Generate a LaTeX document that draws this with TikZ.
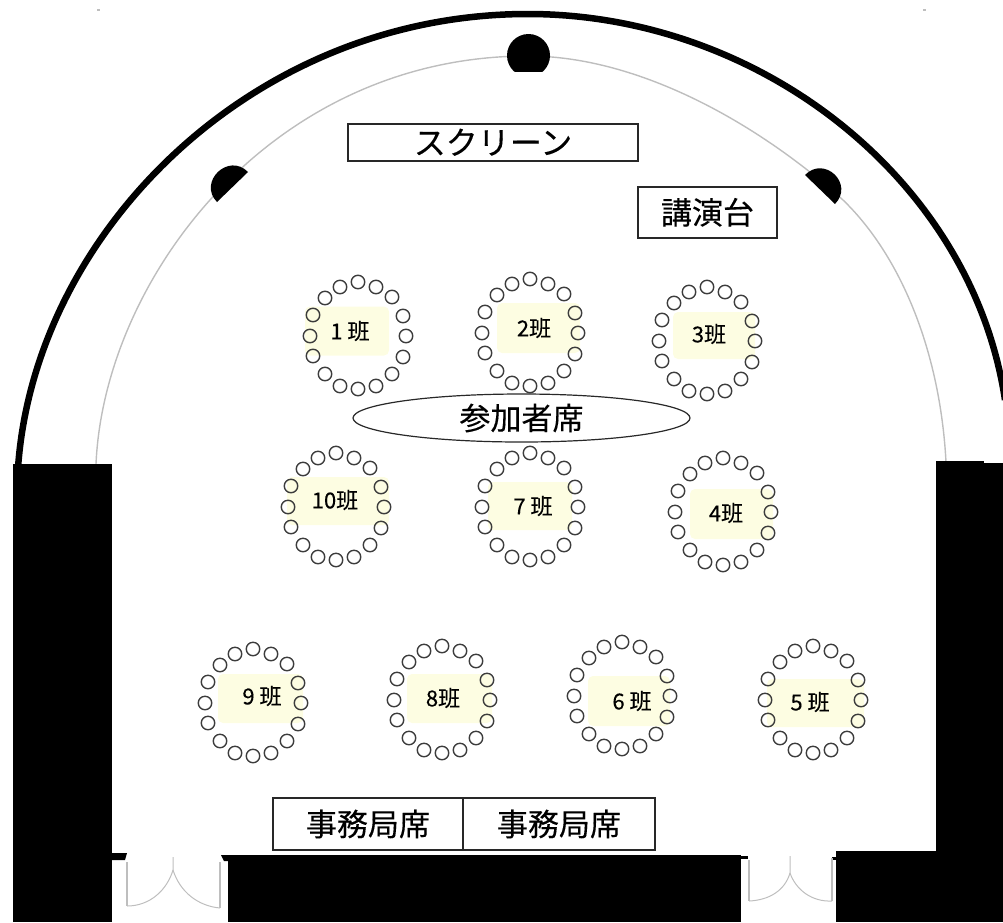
\documentclass[tikz,border=0pt]{standalone}
\usepackage{fontspec}
\setsansfont[FakeBold=0.25]{Noto Sans CJK JP}
\usepackage{tikz}
\usetikzlibrary{shapes,positioning}
\definecolor{color0}{RGB}{253,253,226}
\definecolor{color1}{RGB}{60,60,60}
\definecolor{color2}{RGB}{190,190,190}
\definecolor{color3}{RGB}{40,40,40}
\tikzstyle{tableNode} = [rectangle, fill=color0, rounded corners=5pt, inner sep=0pt, outer sep=0pt]
\tikzstyle{chairNode} = [circle, draw=color1, line width=1.4pt, minimum size=13.5pt, inner sep=0pt]
\tikzstyle{labelNode} = [font=\sffamily\fontsize{22pt}{22pt}\selectfont, inner sep=0pt]
\tikzstyle{signNode} = [rectangle, draw=color3, line width=1.2pt, fill=white, inner sep=0pt, outer sep=0pt, font=\sffamily\fontsize{31pt}{31pt}\selectfont]
\tikzstyle{wallLine} = [draw=black, line width=6.5pt]
\tikzstyle{innerLine} = [draw=color2, line width=1.4pt]
\tikzstyle{doorLine} = [draw=color2, line width=1pt]
\tikzstyle{jambLine} = [draw=color2, line width=2.4pt]
% sixteen chairs round a table centre
\newcommand{\chairRing}[3]{
	\foreach \dx/\dy [count=\n] in {-33/-38,-18/-49,0/-54,18/-49,34/-39,45/-20,48/0,45/21,34/38,18/50,0/53,-18/50,-33/38,-45/20,-48/0,-45/-21}
		\node[chairNode] at (#2+\dx,#3+\dy)(Chair-#1-\n){};
}

\begin{document}
\begin{tikzpicture}[x=1pt, y=-1pt]
	\useasboundingbox (0,0) rectangle (1003,922);
	
	% faint marks at the top
	\fill[color2] (97,9) rectangle (100,11);
	\fill[color2] (923,9) rectangle (926,11);
	
	% hall walls
	\draw[wallLine] (18,468) .. controls (34,235) and (250,14) .. (528,14) .. controls (760,14) and (972,180) .. (1005,400);
	\draw[innerLine] (96,464) .. controls (104,280) and (270,56) .. (528,56) .. controls (640,56) and (760,125) .. (843,200) .. controls (900,255) and (940,350) .. (946,462);
	
	\fill[black] (13,464) rectangle (112,922);
	\fill[black] (936,463) rectangle (1003,922);
	\fill[black] (936,461) rectangle (984,463);
	\fill[black] (228,855) rectangle (741,922);
	\fill[black] (836,851) rectangle (1003,922);
	\fill[black] (112,853) -- (127,853) -- (125,860) -- (112,860) -- cycle;
	\fill[black] (221,855) -- (228,855) -- (228,861) -- (224,861) -- cycle;
	\fill[black] (741,856) -- (748,856) -- (748,859) -- (741,859) -- cycle;
	\fill[black] (832,857) -- (836,857) -- (836,860) -- (832,860) -- cycle;
	
	% speakers
	\begin{scope}
		\clip (500,30) rectangle (560,71);
		\fill[black] (528.5,55.5) circle (21.5);
	\end{scope}
	\fill[black] (248,172) .. controls (228.5,152) and (197.5,182) .. (217,202) -- cycle;
	\fill[black] (805,175) .. controls (824.5,155) and (854.5,184) .. (835,204) -- cycle;
	
	% doors
	\draw[jambLine] (127,862) -- (127,906);
	\draw[jambLine] (220,862) -- (220,908);
	\draw[doorLine] (127,906) .. controls (150,906) and (167,890) .. (173,870) -- (173,857);
	\draw[doorLine] (220,908) .. controls (198,906) and (180,892) .. (173,870);
	\draw[jambLine] (749,860) -- (749,901);
	\draw[jambLine] (832,858) -- (832,901);
	\draw[doorLine] (749,901) .. controls (770,900) and (785,890) .. (790,873) -- (790,856);
	\draw[doorLine] (832,901) .. controls (812,902) and (796,890) .. (790,873);
	
	% tables
	\node[tableNode, minimum width=84pt, minimum height=49pt] at (347,331)(Table-1){};
	\node[labelNode] at (350,331)(Label-1){1 班};
	\chairRing{1}{358}{336}
	
	\node[tableNode, minimum width=83pt, minimum height=50pt] at (538.5,328)(Table-2){};
	\node[labelNode] at (534,328)(Label-2){2班};
	\chairRing{2}{530}{333}
	
	\node[tableNode, minimum width=82pt, minimum height=47pt] at (714,335.5)(Table-3){};
	\node[labelNode] at (709,334)(Label-3){3班};
	\chairRing{3}{707}{341}
	
	\node[tableNode, minimum width=83pt, minimum height=50pt] at (731.5,514)(Table-4){};
	\node[labelNode] at (726,513)(Label-4){4班};
	\chairRing{4}{723}{512}
	
	\node[tableNode, minimum width=97pt, minimum height=48pt] at (815.5,703)(Table-5){};
	\node[labelNode] at (810,702)(Label-5){5 班};
	\chairRing{5}{813}{700}
	
	\node[tableNode, minimum width=82pt, minimum height=50pt] at (629,701)(Table-6){};
	\node[labelNode] at (632,701)(Label-6){6 班};
	\chairRing{6}{622}{696}
	
	\node[tableNode, minimum width=84pt, minimum height=48pt] at (530,506)(Table-7){};
	\node[labelNode] at (533,506)(Label-7){7 班};
	\chairRing{7}{530}{507}
	
	\node[tableNode, minimum width=85pt, minimum height=49pt] at (449.5,698.5)(Table-8){};
	\node[labelNode] at (443,698)(Label-8){8班};
	\chairRing{8}{442}{700}
	
	\node[tableNode, minimum width=85pt, minimum height=49pt] at (260.5,698.5)(Table-9){};
	\node[labelNode] at (262,696)(Label-9){9 班};
	\chairRing{9}{253}{703}
	
	\node[tableNode, minimum width=102pt, minimum height=48pt] at (338,501)(Table-10){};
	\node[labelNode] at (335,500)(Label-10){10班};
	\chairRing{10}{336}{507}
	
	% signs
	\node[signNode, minimum width=290pt, minimum height=37pt, font=\sffamily\fontsize{32pt}{32pt}\selectfont] at (493,142.5)(Screen){\raisebox{2pt}{スクリーン}};
	\node[signNode, minimum width=139pt, minimum height=51pt] at (707.5,212.5)(Podium){\raisebox{3pt}{講演台}};
	\node[signNode, ellipse, minimum width=337pt, minimum height=48pt] at (521.5,418)(Seats){参加者席};
	\node[signNode, minimum width=190pt, minimum height=52pt] at (368,824)(Office-A){\raisebox{2pt}{事務局席}};
	\node[signNode, minimum width=192pt, minimum height=52pt] at (559,824)(Office-B){\raisebox{2pt}{事務局席}};
\end{tikzpicture}
\end{document}
